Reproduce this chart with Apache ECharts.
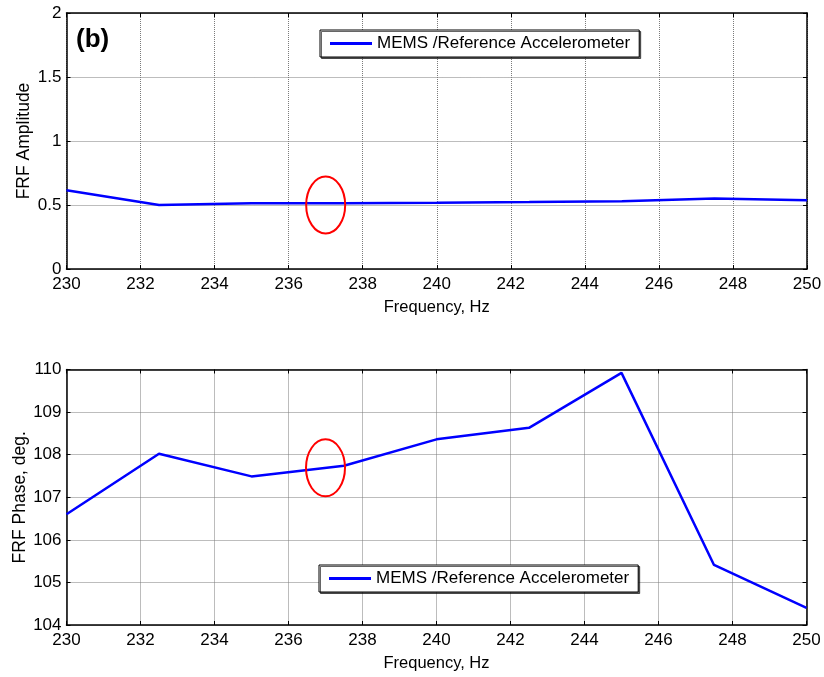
<!DOCTYPE html>
<html>
<head>
<meta charset="utf-8">
<script src="https://cdn.jsdelivr.net/npm/echarts@6/dist/echarts.min.js"></script>
<style>
html,body{margin:0;padding:0;background:#fff;}
#chart{width:824px;height:677px;}
</style>
</head>
<body>
<div id="chart"></div>
<script>
var frequency = [230, 232.5, 235, 237.5, 240, 242.5, 245, 247.5, 250];
var amplitude = [0.615, 0.50, 0.513, 0.514, 0.517, 0.523, 0.53, 0.55, 0.537];
var phase = [106.6, 108.02, 107.49, 107.74, 108.36, 108.63, 109.92, 105.41, 104.4];
var seriesName = 'MEMS /Reference Accelerometer';
var xTitle = 'Frequency, Hz';
var ampTitle = 'FRF Amplitude';
var phaseTitle = 'FRF Phase, deg.';
var panelLabel = '(b)';
var ampMark = [237, 0.5];
var phaseMark = [237, 107.69];

var FONT = 'Arial, "Liberation Sans", sans-serif';
var chart = echarts.init(document.getElementById('chart'));

function pairs(xs, ys) { return xs.map(function (x, i) { return [x, ys[i]]; }); }

function mainX(gi) {
  return {
    type: 'value', gridIndex: gi, min: 230, max: 250, interval: 2, position: 'bottom',
    name: xTitle, nameLocation: 'middle', nameGap: 30, nameMoveOverlap: false,
    nameTextStyle: { color: '#000', fontSize: 16.5, fontFamily: FONT },
    axisLine: { show: true, onZero: false, lineStyle: { color: '#000', width: 1.5 } },
    axisTick: { show: true, inside: true, length: 4, lineStyle: { color: '#000', width: 1 } },
    axisLabel: { color: '#000', fontSize: 17, fontFamily: FONT, margin: 7 },
    splitLine: { show: true, lineStyle: { color: '#7a7a7a', type: [1, 1], width: 1 } }
  };
}
function boxX(gi) {
  return {
    type: 'value', gridIndex: gi, min: 230, max: 250, interval: 2, position: 'top',
    axisLine: { show: true, onZero: false, lineStyle: { color: '#000', width: 1.5 } },
    axisTick: { show: true, inside: true, length: 4, lineStyle: { color: '#000', width: 1 } },
    axisLabel: { show: false }, splitLine: { show: false }
  };
}
function mainY(gi, min, max, interval, name, gap) {
  return {
    type: 'value', gridIndex: gi, min: min, max: max, interval: interval, position: 'left',
    name: name, nameLocation: 'middle', nameGap: gap, nameRotate: 90, nameMoveOverlap: false,
    nameTextStyle: { color: '#000', fontSize: 17.5, fontFamily: FONT },
    axisLine: { show: true, onZero: false, lineStyle: { color: '#000', width: 1.5 } },
    axisTick: { show: true, inside: true, length: 4, lineStyle: { color: '#000', width: 1 } },
    axisLabel: { color: '#000', fontSize: 17, fontFamily: FONT, margin: 5 },
    splitLine: { show: true, lineStyle: { color: '#7a7a7a', type: [1, 1], width: 1 } }
  };
}
function boxY(gi, min, max, interval) {
  return {
    type: 'value', gridIndex: gi, min: min, max: max, interval: interval, position: 'right',
    axisLine: { show: true, onZero: false, lineStyle: { color: '#000', width: 1.5 } },
    axisTick: { show: true, inside: true, length: 4, lineStyle: { color: '#000', width: 1 } },
    axisLabel: { show: false }, splitLine: { show: false }
  };
}
function legendAt(left, top, idx) {
  return {
    show: true, left: left, top: top, orient: 'horizontal',
    seriesIndex: idx,
    data: [{ name: seriesName }],
    icon: 'rect', itemWidth: 42, itemHeight: 3, itemGap: 5,
    padding: [5, 9, 5, 10],
    backgroundColor: '#fff', borderColor: '#000', borderWidth: 1, borderRadius: 0,
    shadowColor: 'rgba(0,0,0,0.6)', shadowOffsetX: 1.5, shadowOffsetY: 1.5, shadowBlur: 0,
    selectedMode: false,
    textStyle: { color: '#000', fontSize: 17, fontFamily: FONT, padding: [0, 0, 0, 0] }
  };
}

var option = {
  backgroundColor: '#fff',
  animation: false,
  grid: [
    { left: 66.5, top: 13, width: 740.5, height: 256, containLabel: false, outerBoundsMode: 'none' },
    { left: 66.5, top: 369.5, width: 740, height: 255.5, containLabel: false, outerBoundsMode: 'none' }
  ],
  xAxis: [mainX(0), boxX(0), mainX(1), boxX(1)],
  yAxis: [
    mainY(0, 0, 2, 0.5, ampTitle, 33), boxY(0, 0, 2, 0.5),
    mainY(1, 104, 110, 1, phaseTitle, 37.5), boxY(1, 104, 110, 1)
  ],
  legend: [legendAt(320, 30, 0), legendAt(319, 565, 1)],
  series: [
    { name: seriesName, type: 'line', xAxisIndex: 0, yAxisIndex: 0, data: pairs(frequency, amplitude),
      symbol: 'none', lineStyle: { color: '#0000ff', width: 2.5 }, itemStyle: { color: '#0000ff' } },
    { name: seriesName, type: 'line', xAxisIndex: 2, yAxisIndex: 2, data: pairs(frequency, phase),
      symbol: 'none', lineStyle: { color: '#0000ff', width: 2.5 }, itemStyle: { color: '#0000ff' } }
  ]
};
chart.setOption(option);

var p1 = chart.convertToPixel({ xAxisIndex: 0, yAxisIndex: 0 }, ampMark);
var p2 = chart.convertToPixel({ xAxisIndex: 2, yAxisIndex: 2 }, phaseMark);
chart.setOption({
  graphic: [
    { type: 'ellipse', shape: { cx: p1[0], cy: p1[1], rx: 19.5, ry: 28.5 },
      style: { fill: 'none', stroke: '#ff0000', lineWidth: 2 }, z: 100 },
    { type: 'ellipse', shape: { cx: p2[0], cy: p2[1], rx: 19.5, ry: 28.5 },
      style: { fill: 'none', stroke: '#ff0000', lineWidth: 2 }, z: 100 },
    { type: 'text', left: 76, top: 27,
      style: { text: panelLabel, fill: '#000', font: 'bold 26px ' + FONT }, z: 100 }
  ]
});
</script>
</body>
</html>
